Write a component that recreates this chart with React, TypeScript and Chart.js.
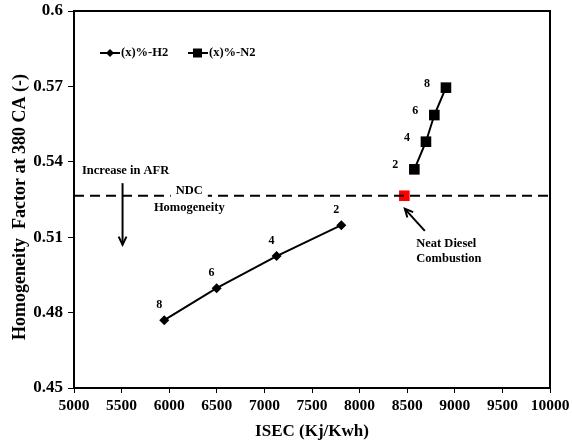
import React, { useEffect, useRef } from "react";
import { Chart, registerables } from "chart.js";

Chart.register(...registerables);

const h2Isec = [7808, 7128, 6498, 5948];
const h2Hf = [0.5148, 0.5025, 0.4897, 0.477];
const n2Isec = [8575, 8697, 8785, 8907];
const n2Hf = [0.537, 0.548, 0.5586, 0.5695];
const pointLabels = ["2", "4", "6", "8"];
const ndcIsec = [8470];
const ndcHf = [0.5265];
const ndcLineIsec = [5000, 10000];
const xTicks = [5000, 5500, 6000, 6500, 7000, 7500, 8000, 8500, 9000, 9500, 10000];
const yTicks = [0.45, 0.48, 0.51, 0.54, 0.57, 0.6];
const yTitle = "Homogeneity  Factor at 380 CA (-)";

const FONT = "'Liberation Serif', 'Times New Roman', serif";

const annotPlugin = {
  id: "annot",
  afterDatasetsDraw(chart: any) {
    const { ctx, chartArea } = chart;
    const xs = chart.scales.x;
    const ys = chart.scales.y;
    ctx.save();
    // frame
    ctx.strokeStyle = "#000";
    ctx.lineWidth = 2;
    ctx.strokeRect(chartArea.left, chartArea.top, chartArea.right - chartArea.left, chartArea.bottom - chartArea.top);

    ctx.fillStyle = "#000";
    ctx.textAlign = "center";
    ctx.textBaseline = "middle";
    ctx.font = `bold 12px ${FONT}`;
    // point labels
    const lab = (xv: number[], yv: number[], dx: number, dy: number) => {
      xv.forEach((v, i) => {
        ctx.fillText(pointLabels[i], xs.getPixelForValue(v) + dx, ys.getPixelForValue(yv[i]) + dy);
      });
    };
    lab(h2Isec, h2Hf, -5, -15);
    lab(n2Isec, n2Hf, -19, -4);

    ctx.font = `bold 12.5px ${FONT}`;
    // NDC text with white background
    const ndcY = ys.getPixelForValue(ndcHf[0]);
    const nx = xs.getPixelForValue(6211);
    const w = ctx.measureText("NDC").width;
    ctx.fillStyle = "#fff";
    ctx.fillRect(nx - w / 2 - 5, ndcY - 8, w + 10, 12);
    ctx.fillStyle = "#000";
    ctx.fillText("NDC", nx, ndcY - 5);
    ctx.fillText("Homogeneity", xs.getPixelForValue(6211), ndcY + 12);

    ctx.textAlign = "left";
    ctx.fillText("Increase in AFR", 82, ys.getPixelForValue(0.5363));
    ctx.fillText("Neat Diesel", xs.getPixelForValue(8595), ys.getPixelForValue(0.5075));
    ctx.fillText("Combustion", xs.getPixelForValue(8595), ys.getPixelForValue(0.5015));

    const arrow = (x1: number, y1: number, x2: number, y2: number) => {
      ctx.beginPath();
      ctx.moveTo(x1, y1);
      ctx.lineTo(x2, y2);
      ctx.lineWidth = 2;
      ctx.strokeStyle = "#000";
      ctx.stroke();
      const a = Math.atan2(y2 - y1, x2 - x1);
      const L = 9;
      ctx.beginPath();
      ctx.moveTo(x2 - L * Math.cos(a - 0.45), y2 - L * Math.sin(a - 0.45));
      ctx.lineTo(x2, y2);
      ctx.lineTo(x2 - L * Math.cos(a + 0.45), y2 - L * Math.sin(a + 0.45));
      ctx.stroke();
    };
    const ax = xs.getPixelForValue(5510);
    arrow(ax, ys.getPixelForValue(0.5315), ax, ys.getPixelForValue(0.507));
    arrow(
      xs.getPixelForValue(8685),
      ys.getPixelForValue(0.5125),
      xs.getPixelForValue(8475),
      ys.getPixelForValue(0.5213)
    );

    // legend
    const drawLeg = (x: number, y: number, style: string, text: string) => {
      ctx.beginPath();
      ctx.moveTo(x, y);
      ctx.lineTo(x + 20, y);
      ctx.lineWidth = 2;
      ctx.stroke();
      ctx.beginPath();
      if (style === "d") {
        ctx.moveTo(x + 10, y - 4);
        ctx.lineTo(x + 14, y);
        ctx.lineTo(x + 10, y + 4);
        ctx.lineTo(x + 6, y);
        ctx.closePath();
      } else {
        ctx.rect(x + 5, y - 4.5, 9, 9);
      }
      ctx.fill();
      ctx.font = `bold 12.5px ${FONT}`;
      ctx.textAlign = "left";
      ctx.fillText(text, x + 21, y);
    };
    drawLeg(100, 53, "d", chart.data.datasets[0].label);
    drawLeg(188, 53, "s", chart.data.datasets[1].label);

    // y-axis title
    ctx.translate(20, 207);
    ctx.rotate(-Math.PI / 2);
    ctx.textAlign = "center";
    ctx.font = `bold 18px ${FONT}`;
    ctx.fillText(yTitle, 0, 0);
    ctx.restore();
  },
};

export default function App() {
  const ref = useRef<HTMLCanvasElement>(null);
  useEffect(() => {
    const chart = new Chart(ref.current!, {
      type: "scatter",
      data: {
        datasets: [
          {
            label: "(x)%-H2",
            data: h2Isec.map((x, i) => ({ x, y: h2Hf[i] })),
            showLine: true,
            borderColor: "#000",
            backgroundColor: "#000",
            borderWidth: 2,
            pointStyle: "rectRot",
            pointRadius: 5,
            pointBorderWidth: 0,
          },
          {
            label: "(x)%-N2",
            data: n2Isec.map((x, i) => ({ x, y: n2Hf[i] })),
            showLine: true,
            borderColor: "#000",
            backgroundColor: "#000",
            borderWidth: 2,
            pointStyle: "rect",
            pointRadius: 7.5,
            pointBorderWidth: 0,
          },
          {
            label: "NDC line",
            data: ndcLineIsec.map((x) => ({ x, y: ndcHf[0] })),
            showLine: true,
            borderColor: "#000",
            borderWidth: 2,
            borderDash: [10, 6],
            pointRadius: 0,
          },
          {
            label: "NDC",
            data: ndcIsec.map((x, i) => ({ x, y: ndcHf[i] })),
            backgroundColor: "#ff0000",
            borderColor: "#ff0000",
            pointStyle: "rect",
            pointRadius: 7.5,
            pointBorderWidth: 0,
          },
        ],
      },
      options: {
        responsive: false,
        animation: false,
        layout: { padding: { left: 0, right: 22, top: 11, bottom: 0 } },
        plugins: { legend: { display: false }, tooltip: { enabled: false } },
        scales: {
          x: {
            type: "linear",
            min: 5000,
            max: 10000,
            afterBuildTicks: (s: any) => {
              s.ticks = xTicks.map((v) => ({ value: v }));
            },
            afterFit: (s: any) => {
              s.height = 54;
              s.paddingLeft = 0;
              s.paddingRight = 0;
              s.paddingTop = 0;
              s.paddingBottom = 0;
            },
            ticks: {
              color: "#000",
              font: { family: FONT, size: 15.5, weight: "bold" },
              padding: 4,
              maxRotation: 0,
              autoSkip: false,
              callback: (v: any) => String(v),
            },
            grid: { display: true, drawOnChartArea: false, drawTicks: true, tickLength: 5, color: "#000", lineWidth: 1 },
            border: { display: true, color: "#000", width: 2 },
            title: {
              display: true,
              text: "ISEC (Kj/Kwh)",
              color: "#000",
              font: { family: FONT, size: 17, weight: "bold" },
              padding: { top: 0, bottom: 0 },
            },
          },
          y: {
            type: "linear",
            min: 0.45,
            max: 0.6,
            afterBuildTicks: (s: any) => {
              s.ticks = yTicks.map((v) => ({ value: v }));
            },
            afterFit: (s: any) => {
              s.width = 74;
              s.paddingLeft = 0;
              s.paddingRight = 0;
              s.paddingTop = 0;
              s.paddingBottom = 0;
            },
            ticks: {
              color: "#000",
              font: { family: FONT, size: 17, weight: "bold" },
              padding: 5,
              callback: (v: any) => String(parseFloat(Number(v).toFixed(2))),
            },
            grid: { display: true, drawOnChartArea: false, drawTicks: true, tickLength: 6, color: "#000", lineWidth: 1 },
            border: { display: true, color: "#000", width: 2 },
            title: { display: false },
          },
        },
      },
      plugins: [annotPlugin],
    } as any);
    return () => chart.destroy();
  }, []);
  return (
    <div style={{ position: "absolute", left: 0, top: 0, width: 572, height: 442, background: "#fff" }}>
      <canvas ref={ref} width={572} height={442} />
    </div>
  );
}
